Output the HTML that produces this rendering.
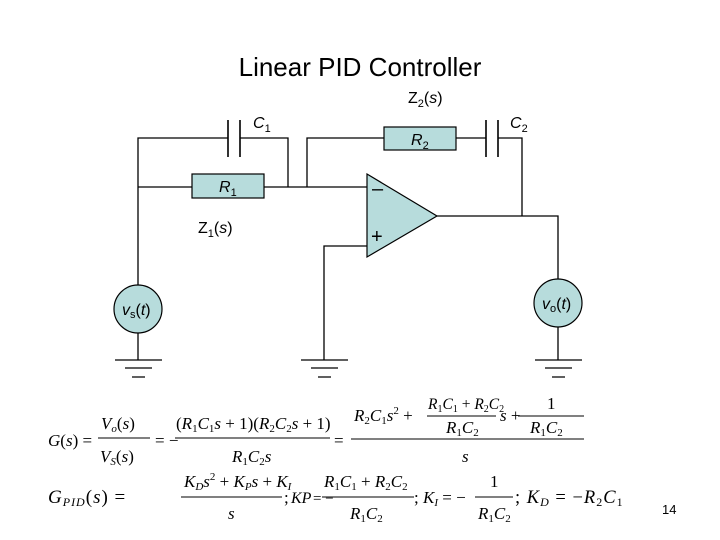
<!DOCTYPE html>
<html><head><meta charset="utf-8"><style>
html,body{margin:0;padding:0;background:#fff;}
svg{display:block;}
.t{font-family:"Liberation Sans",sans-serif;}
.m{font-family:"Liberation Serif",serif;font-style:italic;font-size:17px;}
.r{font-style:normal;}
</style></head><body>
<svg width="720" height="540" viewBox="0 0 720 540" xmlns="http://www.w3.org/2000/svg">
<text class="t" x="360" y="76" font-size="26" text-anchor="middle">Linear PID Controller</text>
<g stroke="#000" stroke-width="1.3" fill="none">
<path d="M138 285 V138 H228 M240 138 H288 V187 M138 187 H192 M264 187 H367"/>
<path d="M228 120 V157 M240 120 V157" stroke-width="1.6"/>
<path d="M307 187 V138 H384 M456 138 H486 M498 138 H522 V216"/>
<path d="M486 120 V157 M498 120 V157" stroke-width="1.6"/>
<path d="M437 216 H558 V279 M558 327 V360"/>
<path d="M367 246 H324 V360"/>
<path d="M138 333 V360"/>
<path d="M115 360 H162 M125 368 H152 M132 377 H145"/>
<path d="M301 360 H348 M311 368 H338 M318 377 H331"/>
<path d="M535 360 H582 M545 368 H572 M552 377 H565"/>
</g>
<g fill="#b7dcdc" stroke="#000" stroke-width="1.2">
<rect x="192" y="174" width="72" height="24"/>
<rect x="384" y="127" width="72" height="23"/>
<path d="M367 174 L437 216 L367 257 Z"/>
<circle cx="138" cy="309" r="24"/>
<circle cx="558" cy="303" r="24"/>
</g>
<g class="t" font-size="16" font-style="italic">
<text x="253" y="128">C<tspan font-size="11" dy="4" font-style="normal">1</tspan></text>
<text x="510" y="128">C<tspan font-size="11" dy="4" font-style="normal">2</tspan></text>
<text x="408" y="103" font-style="normal">Z<tspan font-size="11" dy="4">2</tspan><tspan dy="-4">(</tspan><tspan font-style="italic">s</tspan>)</text>
<text x="198" y="233" font-style="normal">Z<tspan font-size="11" dy="4">1</tspan><tspan dy="-4">(</tspan><tspan font-style="italic">s</tspan>)</text>
<text x="219" y="192">R<tspan font-size="11" dy="4" font-style="normal">1</tspan></text>
<text x="411" y="145">R<tspan font-size="11" dy="4" font-style="normal">2</tspan></text>
<text x="122" y="315">v<tspan font-size="11" dy="3" font-style="normal">s</tspan><tspan dy="-3" font-style="normal">(</tspan>t<tspan font-style="normal">)</tspan></text>
<text x="542" y="309">v<tspan font-size="11" dy="3" font-style="normal">o</tspan><tspan dy="-3" font-style="normal">(</tspan>t<tspan font-style="normal">)</tspan></text>
</g>
<text class="t" x="372" y="195" font-size="20">–</text>
<text class="t" x="371" y="243" font-size="20">+</text>
<g stroke="#000" stroke-width="1">
<path d="M98 438 H150 M175 438 H330 M351 439 H584 M427 416 H496 M518 416 H584 M181 497 H282 M322 497 H414 M475 497 H513"/>
</g>
<g class="m">
<text x="48" y="446">G<tspan class="r">(</tspan>s<tspan class="r">) =</tspan></text>
<text x="101" y="429">V<tspan font-size="11" dy="3">o</tspan><tspan dy="-3" class="r">(</tspan>s<tspan class="r">)</tspan></text>
<text x="100" y="462">V<tspan font-size="11" dy="3">S</tspan><tspan dy="-3" class="r">(</tspan>s<tspan class="r">)</tspan></text>
<text x="155" y="446" class="r">= −</text>
<text x="176" y="429"><tspan class="r">(</tspan>R<tspan font-size="11" dy="3" class="r">1</tspan><tspan dy="-3">C</tspan><tspan font-size="11" dy="3" class="r">1</tspan><tspan dy="-3">s</tspan><tspan class="r"> + 1)(</tspan>R<tspan font-size="11" dy="3" class="r">2</tspan><tspan dy="-3">C</tspan><tspan font-size="11" dy="3" class="r">2</tspan><tspan dy="-3">s</tspan><tspan class="r"> + 1)</tspan></text>
<text x="232" y="462">R<tspan font-size="11" dy="3" class="r">1</tspan><tspan dy="-3">C</tspan><tspan font-size="11" dy="3" class="r">2</tspan><tspan dy="-3">s</tspan></text>
<text x="334" y="446" class="r">=</text>
<text x="354" y="421">R<tspan font-size="11" dy="3" class="r">2</tspan><tspan dy="-3">C</tspan><tspan font-size="11" dy="3" class="r">1</tspan><tspan dy="-3">s</tspan><tspan font-size="11" dy="-7" class="r">2</tspan><tspan dy="7" class="r"> +</tspan></text>
<text x="428" y="409" font-size="15.5">R<tspan font-size="10" dy="3" class="r">1</tspan><tspan dy="-3">C</tspan><tspan font-size="10" dy="3" class="r">1</tspan><tspan dy="-3" class="r"> + </tspan>R<tspan font-size="10" dy="3" class="r">2</tspan><tspan dy="-3">C</tspan><tspan font-size="10" dy="3" class="r">2</tspan></text>
<text x="446" y="433">R<tspan font-size="11" dy="3" class="r">1</tspan><tspan dy="-3">C</tspan><tspan font-size="11" dy="3" class="r">2</tspan></text>
<text x="500" y="421">s<tspan class="r"> +</tspan></text>
<text x="547" y="409" class="r">1</text>
<text x="530" y="433">R<tspan font-size="11" dy="3" class="r">1</tspan><tspan dy="-3">C</tspan><tspan font-size="11" dy="3" class="r">2</tspan></text>
<text x="462" y="462">s</text>
<text x="48" y="503" font-size="19" letter-spacing="1">G<tspan font-size="12" dy="3">PID</tspan><tspan dy="-3" class="r">(</tspan>s<tspan class="r">) =</tspan></text>
<text x="184" y="487">K<tspan font-size="11" dy="3">D</tspan><tspan dy="-3">s</tspan><tspan font-size="11" dy="-7" class="r">2</tspan><tspan dy="7" class="r"> + </tspan>K<tspan font-size="11" dy="3">P</tspan><tspan dy="-3">s</tspan><tspan class="r"> + </tspan>K<tspan font-size="11" dy="3">I</tspan></text>
<text x="228" y="519">s</text>
<text x="284" y="503" class="r">;</text>
<text x="291" y="503" font-size="16">KP</text>
<text x="313" y="503" class="r" font-size="15">= −</text>
<text x="324" y="487">R<tspan font-size="11" dy="3" class="r">1</tspan><tspan dy="-3">C</tspan><tspan font-size="11" dy="3" class="r">1</tspan><tspan dy="-3" class="r"> + </tspan>R<tspan font-size="11" dy="3" class="r">2</tspan><tspan dy="-3">C</tspan><tspan font-size="11" dy="3" class="r">2</tspan></text>
<text x="350" y="519">R<tspan font-size="11" dy="3" class="r">1</tspan><tspan dy="-3">C</tspan><tspan font-size="11" dy="3" class="r">2</tspan></text>
<text x="414" y="503"><tspan class="r">; </tspan>K<tspan font-size="11" dy="3">I</tspan><tspan dy="-3" class="r"> = −</tspan></text>
<text x="490" y="487" class="r">1</text>
<text x="478" y="519">R<tspan font-size="11" dy="3" class="r">1</tspan><tspan dy="-3">C</tspan><tspan font-size="11" dy="3" class="r">2</tspan></text>
<text x="515" y="503" font-size="18.5" letter-spacing="1"><tspan class="r">; </tspan>K<tspan font-size="12" dy="3">D</tspan><tspan dy="-3" class="r"> = −</tspan>R<tspan font-size="12" dy="3" class="r">2</tspan><tspan dy="-3">C</tspan><tspan font-size="12" dy="3" class="r">1</tspan></text>
</g>
<text class="t" x="662" y="514" font-size="13">14</text>
</svg>
</body></html>
